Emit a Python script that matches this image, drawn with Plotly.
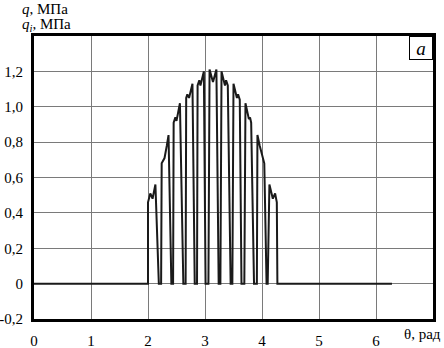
import plotly.graph_objects as go

# Angle theta (rad) and pressure q (MPa)
theta = [0.00, 2.00,
         2.00, 2.04, 2.08, 2.13, 2.19,
         2.23, 2.24, 2.29, 2.33, 2.36, 2.41,
         2.44, 2.45, 2.48, 2.50, 2.56, 2.62,
         2.66, 2.67, 2.69, 2.72, 2.78, 2.82,
         2.86, 2.87, 2.90, 2.92, 2.98, 3.01,
         3.06, 3.08, 3.14, 3.20, 3.24,
         3.27, 3.29, 3.35, 3.37, 3.40, 3.45,
         3.48, 3.50, 3.56, 3.58, 3.61, 3.64,
         3.69, 3.71, 3.77, 3.79, 3.81, 3.86,
         3.91, 3.92, 3.96, 4.00, 4.04, 4.08,
         4.10, 4.13, 4.19, 4.23, 4.26, 4.27,
         6.28]
q = [0.00, 0.00,
     0.46, 0.51, 0.48, 0.56, 0.00,
     0.00, 0.68, 0.71, 0.78, 0.84, 0.00,
     0.00, 0.91, 0.94, 0.92, 1.02, 0.00,
     0.00, 1.05, 1.07, 1.05, 1.13, 0.00,
     0.00, 1.12, 1.15, 1.12, 1.20, 0.00,
     0.00, 1.21, 1.14, 1.21, 0.00,
     0.00, 1.20, 1.12, 1.15, 1.12, 0.00,
     0.00, 1.13, 1.05, 1.07, 1.04, 0.00,
     0.00, 1.02, 0.93, 0.94, 0.91, 0.00,
     0.00, 0.84, 0.78, 0.72, 0.68, 0.00,
     0.00, 0.56, 0.48, 0.51, 0.46, 0.00,
     0.00]

x_ticks = [0, 1, 2, 3, 4, 5, 6]
x_labels = ["0", "1", "2", "3", "4", "5", "6"]
y_ticks = [-0.2, 0, 0.2, 0.4, 0.6, 0.8, 1.0, 1.2]
y_labels = ["-0,2", "0", "0,2", "0,4", "0,6", "0,8", "1,0", "1,2"]

serif = "Liberation Serif, Times New Roman, serif"
tfont = dict(family=serif, size=15, color="black")

fig = go.Figure()
fig.add_trace(go.Scatter(x=theta, y=q, mode="lines",
                         line=dict(color="#1a1a1a", width=2),
                         showlegend=False, hoverinfo="skip"))

fig.update_layout(
    width=444, height=348,
    margin=dict(l=34, r=11, t=36, b=29, autoexpand=False),
    paper_bgcolor="white", plot_bgcolor="white",
    font=tfont,
    xaxis=dict(range=[0, 7], tickvals=x_ticks, ticktext=x_labels,
               showgrid=True, gridcolor="#7a7a7a", gridwidth=1,
               zeroline=False, showline=True, linecolor="black", linewidth=3,
               mirror=True, ticks="outside", ticklen=6, tickcolor="white",
               automargin=False, tickfont=tfont),
    yaxis=dict(range=[-0.2, 1.4], tickvals=y_ticks, ticktext=y_labels,
               showgrid=True, gridcolor="#7a7a7a", gridwidth=1,
               zeroline=False, showline=True, linecolor="black", linewidth=3,
               mirror=True, ticks="outside", ticklen=5, tickcolor="white",
               automargin=False, tickfont=tfont),
    annotations=[
        dict(text="<i>q</i>, МПа", xref="paper", yref="paper",
             x=0, y=1, xshift=-14, yshift=27, xanchor="left", yanchor="middle",
             showarrow=False, font=tfont),
        dict(text="<i>q<sub>i</sub></i>, МПа", xref="paper", yref="paper",
             x=0, y=1, xshift=-14, yshift=11, xanchor="left", yanchor="middle",
             showarrow=False, font=tfont),
        dict(text="θ, рад", xref="paper", yref="paper",
             x=1, y=0, xshift=10, yshift=-15, xanchor="right", yanchor="middle",
             showarrow=False, font=tfont),
        dict(text="<i>a</i>", xref="paper", yref="paper",
             x=1, y=1, xanchor="right", yanchor="top",
             width=20, height=20, borderpad=1, borderwidth=1,
             bordercolor="black", bgcolor="white",
             showarrow=False, font=dict(family=serif, size=19, color="black")),
    ],
)

fig.write_html("out.html", config={"displayModeBar": False},
               post_script="document.body.style.margin='0';document.body.style.overflow='hidden';")
